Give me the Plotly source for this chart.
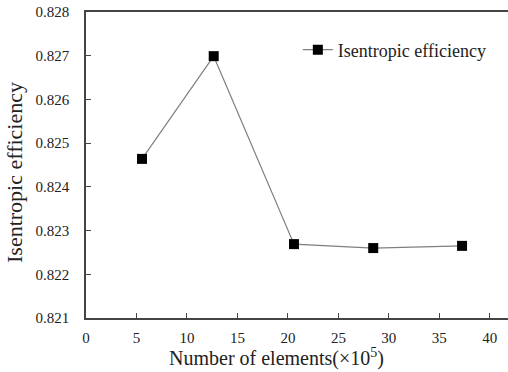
import plotly.graph_objects as go

elements = [5.55, 12.65, 20.6, 28.45, 37.25]
efficiency = [0.82464, 0.82699, 0.82269, 0.82260, 0.82265]
x_ticks = [0, 5, 10, 15, 20, 25, 30, 35, 40]
y_ticks = [0.821, 0.822, 0.823, 0.824, 0.825, 0.826, 0.827, 0.828]
series_name = "Isentropic efficiency"

font = "Liberation Serif"

fig = go.Figure()
fig.add_trace(go.Scatter(
    x=elements, y=efficiency, mode="lines+markers", name=series_name,
    line=dict(color="#7f7f7f", width=1.2),
    marker=dict(symbol="square", size=10, color="black"),
))

fig.update_layout(
    width=508, height=372,
    margin=dict(l=86, r=0, t=12, b=54),
    paper_bgcolor="white", plot_bgcolor="white",
    font=dict(family=font, size=15, color="#222"),
    showlegend=True,
    legend=dict(x=0.502, y=0.876, xanchor="left", yanchor="middle",
                bgcolor="rgba(0,0,0,0)", font=dict(size=18, family=font, color="#222"),
                itemwidth=30, tracegroupgap=0),
    xaxis=dict(range=[0, 41.8], tickvals=x_ticks, ticks="inside", ticklen=5,
               tickcolor="#444", showline=True, linecolor="#444", linewidth=1.5,
               mirror=True, showgrid=False, zeroline=False,
               ticklabelstandoff=5,
               tickfont=dict(size=15, family=font, color="#222")),
    yaxis=dict(range=[0.821, 0.828], tickvals=y_ticks, tickformat=".3f",
               ticks="inside", ticklen=5, tickcolor="#444", showline=True,
               linecolor="#444", linewidth=1.5, showgrid=False, zeroline=False,
               ticklabelstandoff=12,
               tickfont=dict(size=15, family=font, color="#222")),
    annotations=[
        dict(text="Number of elements(×10<sup>5</sup>)", xref="paper", yref="paper",
             x=(276 - 86) / 422, y=-(357 - 318) / 306, xanchor="center", yanchor="middle",
             showarrow=False, font=dict(size=20, family=font, color="#222")),
        dict(text="Isentropic efficiency", xref="paper", yref="paper",
             x=-(86 - 14) / 422, y=(318 - 173) / 306, xanchor="center", yanchor="middle",
             textangle=-90, showarrow=False, font=dict(size=22, family=font, color="#222")),
    ],
)

fig.write_html("out.html")
